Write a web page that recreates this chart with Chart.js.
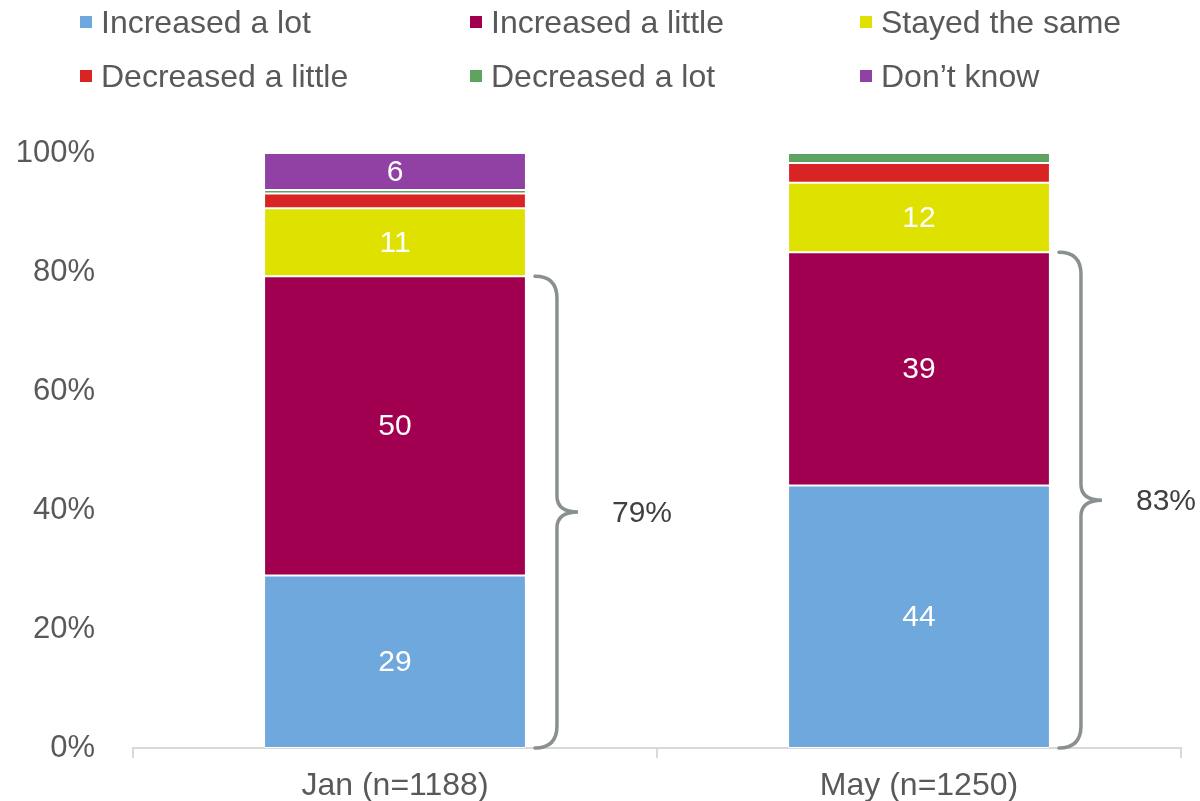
<!DOCTYPE html>
<html>
<head>
<meta charset="utf-8">
<script src="https://cdn.jsdelivr.net/npm/chart.js@4.4.1/dist/chart.umd.min.js"></script>
<style>
  html, body { margin: 0; padding: 0; background: #ffffff; }
  #wrap { position: relative; width: 1200px; height: 801px; overflow: hidden; }
  #c { position: absolute; left: 0; top: 0; }
  #legend {
    position: absolute; left: 0; top: 0; width: 1200px; height: 100px;
    font-family: "Liberation Sans", Arial, sans-serif; font-size: 32px; color: #595959;
  }
  .item { position: absolute; display: flex; align-items: center; height: 40px; white-space: nowrap; }
  .sw { width: 12px; height: 12px; margin-right: 9px; flex: none; }
</style>
</head>
<body>
<div id="wrap">
  <canvas id="c" width="1200" height="801"></canvas>
  <div id="legend"></div>
</div>
<script>
// Survey waves along the x axis
const categories = ['Jan (n=1188)', 'May (n=1250)'];

// Answer options, in stacking order (bottom to top)
const seriesNames = ['Increased a lot', 'Increased a little', 'Stayed the same',
                     'Decreased a little', 'Decreased a lot', 'Don\u2019t know'];
const seriesColors = ['#6fa8dc', '#a0004f', '#dfe100', '#d82424', '#5ea35f', '#9141a3'];

// Share of respondents (%) per wave
const increasedALot    = [29.0, 44.1];
const increasedALittle = [50.3, 39.2];
const stayedTheSame    = [11.4, 11.7];
const decreasedALittle = [2.5, 3.3];
const decreasedALot    = [0.6, 1.7];
const dontKnow         = [6.2, 0];

// Value axis ticks
const yTicks = [0, 20, 40, 60, 80, 100];

const seriesValues = [increasedALot, increasedALittle, stayedTheSame,
                      decreasedALittle, decreasedALot, dontKnow];

const FONT = '"Liberation Sans", Arial, sans-serif';

// HTML legend: three columns, two rows
const legendEl = document.getElementById('legend');
seriesNames.forEach((name, i) => {
  const col = i % 3, row = Math.floor(i / 3);
  const item = document.createElement('div');
  item.className = 'item';
  item.style.left = (80 + col * 390) + 'px';
  item.style.top = (2 + row * 54) + 'px';
  const sw = document.createElement('span');
  sw.className = 'sw';
  sw.style.background = seriesColors[i];
  const tx = document.createElement('span');
  tx.textContent = name;
  item.appendChild(sw);
  item.appendChild(tx);
  legendEl.appendChild(item);
});

// Segment values and the "increased" brace totals
const annotate = {
  id: 'annotate',
  afterDatasetsDraw(chart) {
    const ctx = chart.ctx;
    const y = chart.scales.y;
    ctx.save();
    // white value labels inside the larger segments
    ctx.font = '30px ' + FONT;
    ctx.fillStyle = '#ffffff';
    ctx.textAlign = 'center';
    ctx.textBaseline = 'middle';
    chart.data.datasets.forEach((ds, di) => {
      const meta = chart.getDatasetMeta(di);
      meta.data.forEach((bar, i) => {
        const v = ds.data[i];
        if (v < 5) return;
        ctx.fillText(String(Math.round(v)), bar.x, (bar.y + bar.base) / 2 + 1);
      });
    });
    // braces grouping "Increased a lot" + "Increased a little"
    const meta0 = chart.getDatasetMeta(0);
    meta0.data.forEach((bar, i) => {
      const total = increasedALot[i] + increasedALittle[i];
      const top = y.getPixelForValue(total);
      const bottom = y.getPixelForValue(0);
      const x0 = bar.x + bar.width / 2 + 10;
      const x1 = x0 + 22, x2 = x1 + 21, mid = (top + bottom) / 2, r = 22, rm = 16;
      ctx.strokeStyle = '#8a8f92';
      ctx.lineWidth = 3.5;
      ctx.lineCap = 'round';
      ctx.beginPath();
      ctx.moveTo(x0, top);
      ctx.quadraticCurveTo(x1, top, x1, top + r);
      ctx.lineTo(x1, mid - rm);
      ctx.quadraticCurveTo(x1, mid, x2, mid);
      ctx.quadraticCurveTo(x1, mid, x1, mid + rm);
      ctx.lineTo(x1, bottom - r);
      ctx.quadraticCurveTo(x1, bottom, x0, bottom);
      ctx.stroke();
      ctx.font = '30px ' + FONT;
      ctx.fillStyle = '#404040';
      ctx.textAlign = 'left';
      ctx.fillText(Math.round(total) + '%', x2 + 34, mid + 2);
    });
    ctx.restore();
  }
};

new Chart(document.getElementById('c'), {
  type: 'bar',
  data: {
    labels: categories,
    datasets: seriesNames.map((name, i) => ({
      label: name,
      data: seriesValues[i],
      backgroundColor: seriesColors[i],
      borderColor: '#ffffff',
      borderWidth: { top: 1, bottom: 1, left: 0, right: 0 },
      borderSkipped: false,
      barPercentage: 0.496,
      categoryPercentage: 1
    }))
  },
  options: {
    responsive: false,
    animation: false,
    devicePixelRatio: 1,
    layout: { padding: { top: 153, left: 14, right: 19, bottom: 0 } },
    plugins: { legend: { display: false }, tooltip: { enabled: false } },
    scales: {
      x: {
        stacked: true,
        afterFit(scale) { scale.height = 53; scale.paddingLeft = 0; scale.paddingRight = 0; },
        grid: { display: true, drawOnChartArea: false, drawTicks: true, tickLength: 10, color: '#d9d9d9', lineWidth: 2 },
        border: { display: true, color: '#d9d9d9', width: 2 },
        ticks: { color: '#595959', padding: 12, font: { family: FONT, size: 32, lineHeight: 1 } }
      },
      y: {
        stacked: true,
        min: 0,
        max: 100,
        afterBuildTicks(scale) { scale.ticks = yTicks.map(v => ({ value: v })); },
        afterFit(scale) { scale.width = 119; scale.paddingTop = 0; scale.paddingBottom = 0; },
        grid: { display: false, drawTicks: false },
        border: { display: false },
        ticks: {
          color: '#595959', padding: 38,
          font: { family: FONT, size: 31 },
          callback: v => v + '%'
        }
      }
    }
  },
  plugins: [annotate]
});
</script>
</body>
</html>
